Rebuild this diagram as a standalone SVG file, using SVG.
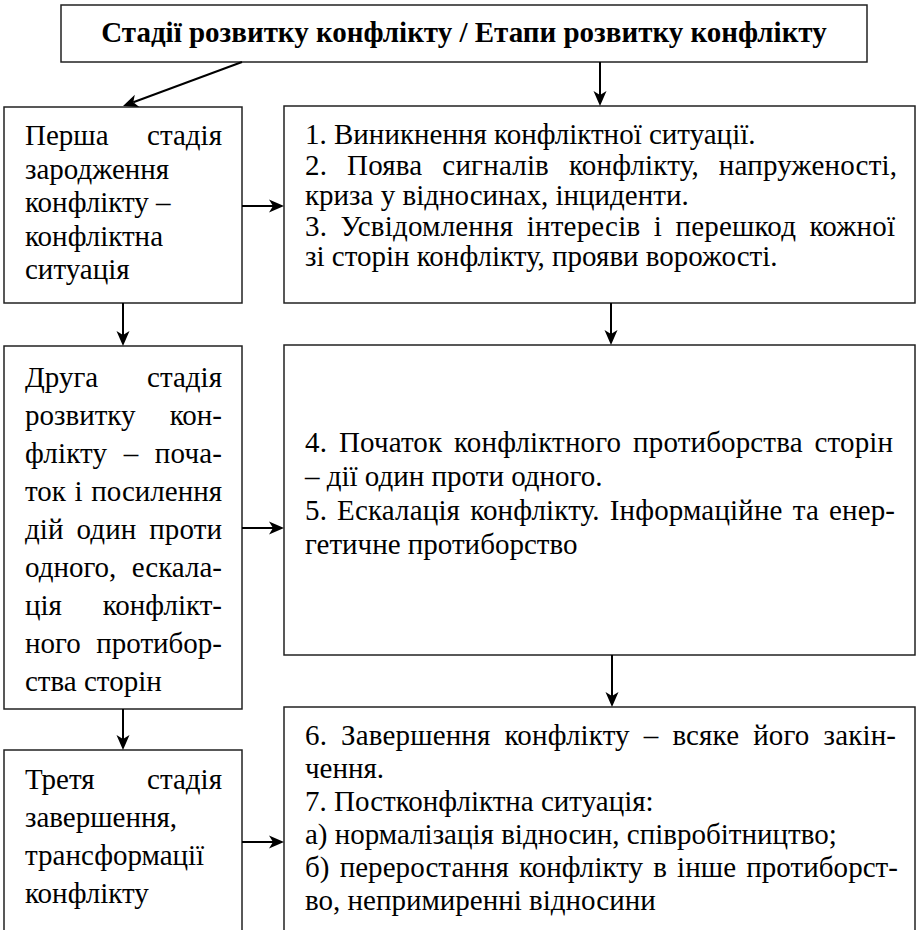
<svg xmlns="http://www.w3.org/2000/svg" width="916" height="930" viewBox="0 0 916 930">
<rect width="916" height="930" fill="#fff"/>
<g id="title">
<rect fill="#fff" stroke="#222" stroke-width="1.5" x="61" y="5" width="806" height="57"/>
<text font-family="Liberation Serif, Times New Roman, Tinos, serif" font-size="29" font-weight="bold" x="464" y="42" text-anchor="middle">Стадії розвитку конфлікту / Етапи розвитку конфлікту</text>
</g>
<g id="stage1">
<rect fill="#fff" stroke="#222" stroke-width="1.5" x="4" y="107" width="238" height="196"/>
<text font-family="Liberation Serif, Times New Roman, Tinos, serif" font-size="29" x="25" y="145">Перша</text><text font-family="Liberation Serif, Times New Roman, Tinos, serif" font-size="29" text-anchor="end" x="222" y="145">стадія</text>
<text font-family="Liberation Serif, Times New Roman, Tinos, serif" font-size="29" x="25" y="178.5">зародження</text>
<text font-family="Liberation Serif, Times New Roman, Tinos, serif" font-size="29" x="25" y="212">конфлікту –</text>
<text font-family="Liberation Serif, Times New Roman, Tinos, serif" font-size="29" x="25" y="245.5">конфліктна</text>
<text font-family="Liberation Serif, Times New Roman, Tinos, serif" font-size="29" x="25" y="279">ситуація</text>
</g>
<g id="steps1">
<rect fill="#fff" stroke="#222" stroke-width="1.5" x="284" y="106" width="631" height="197"/>
<text font-family="Liberation Serif, Times New Roman, Tinos, serif" font-size="29" x="305" y="144">1. Виникнення конфліктної ситуації.</text>
<text font-family="Liberation Serif, Times New Roman, Tinos, serif" font-size="29" x="305" y="174.5" word-spacing="12.5" textLength="592">2. Поява сигналів конфлікту, напруженості,</text>
<text font-family="Liberation Serif, Times New Roman, Tinos, serif" font-size="29" x="305" y="205">криза у відносинах, інциденти.</text>
<text font-family="Liberation Serif, Times New Roman, Tinos, serif" font-size="29" x="305" y="235.5" word-spacing="6" textLength="590">3. Усвідомлення інтересів і перешкод кожної</text>
<text font-family="Liberation Serif, Times New Roman, Tinos, serif" font-size="29" x="305" y="266">зі сторін конфлікту, прояви ворожості.</text>
</g>
<g id="stage2">
<rect fill="#fff" stroke="#222" stroke-width="1.5" x="4" y="346" width="238" height="363"/>
<text font-family="Liberation Serif, Times New Roman, Tinos, serif" font-size="29" x="25" y="387">Друга</text><text font-family="Liberation Serif, Times New Roman, Tinos, serif" font-size="29" text-anchor="end" x="222" y="387">стадія</text>
<text font-family="Liberation Serif, Times New Roman, Tinos, serif" font-size="29" x="25" y="425">розвитку</text><text font-family="Liberation Serif, Times New Roman, Tinos, serif" font-size="29" text-anchor="end" x="222" y="425">кон-</text>
<text font-family="Liberation Serif, Times New Roman, Tinos, serif" font-size="29" x="25" y="463" word-spacing="9" textLength="197">флікту – поча-</text>
<text font-family="Liberation Serif, Times New Roman, Tinos, serif" font-size="29" x="25" y="501" word-spacing="1.5" textLength="197">ток і посилення</text>
<text font-family="Liberation Serif, Times New Roman, Tinos, serif" font-size="29" x="25" y="539" word-spacing="5.5" textLength="197">дій один проти</text>
<text font-family="Liberation Serif, Times New Roman, Tinos, serif" font-size="29" x="25" y="577">одного,</text><text font-family="Liberation Serif, Times New Roman, Tinos, serif" font-size="29" text-anchor="end" x="222" y="577">ескала-</text>
<text font-family="Liberation Serif, Times New Roman, Tinos, serif" font-size="29" x="25" y="615">ція</text><text font-family="Liberation Serif, Times New Roman, Tinos, serif" font-size="29" text-anchor="end" x="222" y="615">конфлікт-</text>
<text font-family="Liberation Serif, Times New Roman, Tinos, serif" font-size="29" x="25" y="653">ного</text><text font-family="Liberation Serif, Times New Roman, Tinos, serif" font-size="29" text-anchor="end" x="222" y="653">протибор-</text>
<text font-family="Liberation Serif, Times New Roman, Tinos, serif" font-size="29" x="25" y="691">ства сторін</text>
</g>
<g id="steps2">
<rect fill="#fff" stroke="#222" stroke-width="1.5" x="284" y="345" width="631" height="310"/>
<text font-family="Liberation Serif, Times New Roman, Tinos, serif" font-size="29" x="305" y="452" word-spacing="4.5" textLength="588">4. Початок конфліктного протиборства сторін</text>
<text font-family="Liberation Serif, Times New Roman, Tinos, serif" font-size="29" x="305" y="486">– дії один проти одного.</text>
<text font-family="Liberation Serif, Times New Roman, Tinos, serif" font-size="29" x="305" y="520" word-spacing="2.7" textLength="590">5. Ескалація конфлікту. Інформаційне та енер-</text>
<text font-family="Liberation Serif, Times New Roman, Tinos, serif" font-size="29" x="305" y="554">гетичне протиборство</text>
</g>
<g id="stage3">
<rect fill="#fff" stroke="#222" stroke-width="1.5" x="4" y="750" width="238" height="200"/>
<text font-family="Liberation Serif, Times New Roman, Tinos, serif" font-size="29" x="25" y="789">Третя</text><text font-family="Liberation Serif, Times New Roman, Tinos, serif" font-size="29" text-anchor="end" x="222" y="789">стадія</text>
<text font-family="Liberation Serif, Times New Roman, Tinos, serif" font-size="29" x="25" y="827">завершення,</text>
<text font-family="Liberation Serif, Times New Roman, Tinos, serif" font-size="29" x="25" y="865">трансформації</text>
<text font-family="Liberation Serif, Times New Roman, Tinos, serif" font-size="29" x="25" y="903">конфлікту</text>
</g>
<g id="steps3">
<rect fill="#fff" stroke="#222" stroke-width="1.5" x="284" y="707" width="631" height="240"/>
<text font-family="Liberation Serif, Times New Roman, Tinos, serif" font-size="29" x="305" y="745" word-spacing="6.6" textLength="591">6. Завершення конфлікту – всяке його закін-</text>
<text font-family="Liberation Serif, Times New Roman, Tinos, serif" font-size="29" x="305" y="778">чення.</text>
<text font-family="Liberation Serif, Times New Roman, Tinos, serif" font-size="29" x="305" y="811">7. Постконфліктна ситуація:</text>
<text font-family="Liberation Serif, Times New Roman, Tinos, serif" font-size="29" x="305" y="844">а) нормалізація відносин, співробітництво;</text>
<text font-family="Liberation Serif, Times New Roman, Tinos, serif" font-size="29" x="305" y="877" word-spacing="2.8" textLength="593">б) переростання конфлікту в інше протиборст-</text>
<text font-family="Liberation Serif, Times New Roman, Tinos, serif" font-size="29" x="305" y="910">во, непримиренні відносини</text>
</g>
<g id="connectors">
<g stroke="#000" stroke-width="2" fill="none">
<path d="M242,62 L133.3,102.2"/>
<path d="M600,62 L600,95"/>
<path d="M242,206 L273,206"/>
<path d="M123,303 L123,335"/>
<path d="M611,303 L611,334"/>
<path d="M242,528 L273,528"/>
<path d="M123,709 L123,739"/>
<path d="M612,655 L612,696"/>
<path d="M242,842 L273,842"/>
</g>
<g fill="#000">
<polygon points="139.3,106.9 123,106 134.8,94.7 133.3,102.2"/>
<polygon points="593.5,91 600,106 606.5,91 600,95"/>
<polygon points="269,199.5 284,206 269,212.5 273,206"/>
<polygon points="116.5,331 123,346 129.5,331 123,335"/>
<polygon points="604.5,330 611,345 617.5,330 611,334"/>
<polygon points="269,521.5 284,528 269,534.5 273,528"/>
<polygon points="116.5,735 123,750 129.5,735 123,739"/>
<polygon points="605.5,692 612,707 618.5,692 612,696"/>
<polygon points="269,835.5 284,842 269,848.5 273,842"/>
</g>
</g>
</svg>
